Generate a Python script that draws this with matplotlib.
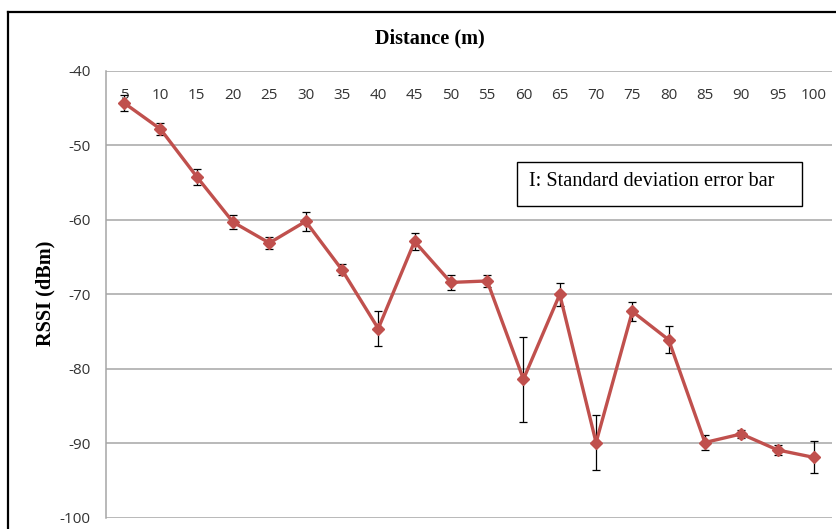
import matplotlib
matplotlib.use("Agg")
import matplotlib.pyplot as plt
from matplotlib.lines import Line2D
from matplotlib.patches import Rectangle

distances = ["5", "10", "15", "20", "25", "30", "35", "40", "45", "50",
             "55", "60", "65", "70", "75", "80", "85", "90", "95", "100"]
rssi = [-44.3, -47.8, -54.2, -60.3, -63.1, -60.2, -66.7, -74.6, -62.9, -68.4,
        -68.2, -81.4, -70.0, -89.9, -72.3, -76.1, -89.9, -88.75, -90.9, -91.9]
std = [1.1, 0.85, 1.05, 0.9, 0.85, 1.3, 0.75, 2.4, 1.1, 1.05,
       0.85, 5.7, 1.5, 3.7, 1.25, 1.8, 1.0, 0.5, 0.7, 2.15]
yticks = [-100, -90, -80, -70, -60, -50, -40]

fig = plt.figure(figsize=(8.37, 5.29), dpi=100)
ax = fig.add_axes([106/837, 1-517.7/529, (832-106)/837, (517.7-71)/529])

x = list(range(len(distances)))
ax.errorbar(x, rssi, yerr=std, fmt='none', ecolor='black', elinewidth=0.9,
            capsize=3.2, capthick=0.9, zorder=3)
ax.plot(x, rssi, color='#C0504D', lw=2.4, marker='D', markersize=6,
        markerfacecolor='#C0504D', markeredgecolor='#C0504D', zorder=4)

ax.set_xlim(-0.5, len(distances)-0.5)
ax.set_ylim(-100, -40)
ax.set_yticks(yticks)
ax.set_yticklabels([str(v) for v in yticks], fontfamily='Open Sans', fontsize=11, color='#333333')
ax.yaxis.grid(True, color='#A6A6A6', lw=1.1)
ax.set_axisbelow(True)

ax.xaxis.tick_top()
ax.set_xticks(x)
ax.set_xticklabels(distances, fontfamily='Open Sans', fontsize=11, color='#333333')
ax.tick_params(axis='x', length=0, pad=-23)
ax.tick_params(axis='y', length=0, pad=11)

for s in ['top', 'right', 'bottom']:
    ax.spines[s].set_visible(False)
ax.spines['left'].set_color('#A6A6A6')
ax.spines['left'].set_linewidth(1.1)

fig.text(429.5/837, 1-38/529, "Distance (m)", fontfamily='Liberation Serif',
         fontweight='bold', fontsize=14.6, ha='center', va='center')
fig.text(45/837, 1-293/529, "RSSI (dBm)", fontfamily='Liberation Serif',
         fontweight='bold', fontsize=14.6, ha='center', va='center', rotation=90)

# annotation box
fig.patches.append(Rectangle((517/837, 1-206/529), (802-517)/837, (206-162)/529,
                             transform=fig.transFigure, fill=False,
                             edgecolor='black', lw=1.0))
fig.text(529/837, 1-182/529, "I: Standard deviation error bar",
         fontfamily='Liberation Serif', fontsize=14.6, ha='left', va='center')

# outer chart frame
fig.lines.append(Line2D([8/837, 8/837], [0, 1-12/529], transform=fig.transFigure,
                        color='black', lw=1.6))
fig.lines.append(Line2D([8/837, 1], [1-12/529, 1-12/529], transform=fig.transFigure,
                        color='black', lw=1.6))

fig.savefig("out.png", dpi=100)
